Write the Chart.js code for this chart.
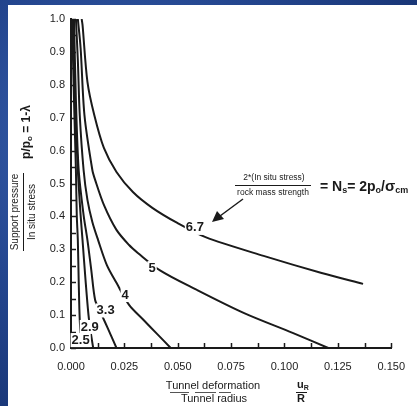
<!DOCTYPE html>
<html>
<head>
<meta charset="utf-8">
<script src="https://cdn.jsdelivr.net/npm/chart.js@4.4.0/dist/chart.umd.min.js"></script>
<style>
  html, body { margin: 0; padding: 0; }
  body {
    width: 417px; height: 406px; overflow: hidden; position: relative;
    background: radial-gradient(ellipse at 30% 35%, #3b64b2 0%, #24468f 45%, #132d69 100%);
  }
  #panel { position: absolute; left: 8px; top: 5px; right: 0; bottom: 0; background: #fff; }
  #wrap { position: absolute; left: 0; top: 0; width: 417px; height: 406px; }
</style>
</head>
<body>
<div id="panel"></div>
<div id="wrap"><canvas id="chart" width="417" height="406"></canvas></div>
<script>
// Ns = 2*po/sigma_cm curves: tunnel deformation (u/R) vs support pressure (p/po)
const nsLabels = ['2.5', '2.9', '3.3', '4', '5', '6.7'];

const strain25 = [0.0005, 0.0014, 0.0023, 0.0027, 0.0032, 0.0036, 0.0041, 0.0050];
const pressure25 = [1.0, 0.754, 0.541, 0.404, 0.328, 0.207, 0.085, 0.0];

const strain29 = [0.0009, 0.0018, 0.0032, 0.0045, 0.0054, 0.0068, 0.0082, 0.0093, 0.0104];
const pressure29 = [1.0, 0.754, 0.541, 0.404, 0.328, 0.207, 0.100, 0.045, 0.0];

const strain33 = [0.0014, 0.0023, 0.0036, 0.0059, 0.0077, 0.0095, 0.0113, 0.0136, 0.0159, 0.0186, 0.0213];
const pressure33 = [1.0, 0.754, 0.541, 0.404, 0.328, 0.237, 0.146, 0.112, 0.079, 0.040, 0.0];

const strain4 = [0.0023, 0.0032, 0.0041, 0.0059, 0.0077, 0.0100, 0.0127, 0.0168, 0.0213, 0.0272, 0.0340, 0.0403, 0.0467];
const pressure4 = [1.0, 0.875, 0.708, 0.541, 0.450, 0.383, 0.328, 0.252, 0.198, 0.131, 0.085, 0.043, 0.0];

const strain5 = [0.0032, 0.0045, 0.0063, 0.0100, 0.0113, 0.0154, 0.0213, 0.0272, 0.0313, 0.0417, 0.0585, 0.0811, 0.1038, 0.1205];
const pressure5 = [1.0, 0.912, 0.708, 0.541, 0.511, 0.435, 0.359, 0.313, 0.289, 0.236, 0.178, 0.106, 0.046, 0.0];

const strain67 = [0.0050, 0.0054, 0.0077, 0.0109, 0.0154, 0.0213, 0.0290, 0.0381, 0.0498, 0.0630, 0.0902, 0.1174, 0.1368];
const pressure67 = [1.0, 0.982, 0.809, 0.708, 0.608, 0.535, 0.474, 0.426, 0.380, 0.337, 0.280, 0.228, 0.195];

// where each Ns value is written on its curve
const labelStrain = [0.0045, 0.0088, 0.0162, 0.0254, 0.0380, 0.0580];
const labelPressure = [0.024, 0.064, 0.114, 0.161, 0.243, 0.365];

const curveStrains = [strain25, strain29, strain33, strain4, strain5, strain67];
const curvePressures = [pressure25, pressure29, pressure33, pressure4, pressure5, pressure67];

const FONT = '"Liberation Sans", Arial, sans-serif';
const INK = '#1a1a1a';

function toPoints(xs, ys) {
  return xs.map((x, i) => ({ x: x, y: ys[i] }));
}

// draw a run of text pieces (sub/superscripts) starting at x
function drawRun(ctx, parts, x, y) {
  let cx = x;
  parts.forEach((p) => {
    ctx.font = p.font;
    ctx.fillText(p.t, cx, y + (p.dy || 0));
    cx += ctx.measureText(p.t).width;
  });
  return cx;
}

function runWidth(ctx, parts) {
  return parts.reduce((w, p) => {
    ctx.font = p.font;
    return w + ctx.measureText(p.t).width;
  }, 0);
}

const decorPlugin = {
  id: 'decor',
  afterDraw(chart) {
    const { ctx, chartArea, scales } = chart;
    const xs = scales.x;
    const ys = scales.y;
    ctx.save();

    // inward tick marks
    ctx.strokeStyle = INK;
    ctx.lineWidth = 1.5;
    ctx.beginPath();
    for (let i = 0; i <= 12; i++) {
      const px = Math.round(xs.getPixelForValue(i * 0.0125)) + 0.5;
      ctx.moveTo(px, chartArea.bottom);
      ctx.lineTo(px, chartArea.bottom - 5);
    }
    for (let i = 0; i <= 20; i++) {
      const py = Math.round(ys.getPixelForValue(i * 0.05)) + 0.5;
      ctx.moveTo(chartArea.left, py);
      ctx.lineTo(chartArea.left + 5, py);
    }
    ctx.stroke();

    // Ns labels on the curves
    ctx.font = 'bold 13px ' + FONT;
    ctx.textAlign = 'center';
    ctx.textBaseline = 'middle';
    nsLabels.forEach((lab, i) => {
      const px = xs.getPixelForValue(labelStrain[i]);
      const py = ys.getPixelForValue(labelPressure[i]);
      const w = ctx.measureText(lab).width;
      ctx.fillStyle = '#fff';
      ctx.fillRect(px - w / 2 - 1, py - 7, w + 2, 14);
      ctx.fillStyle = INK;
      ctx.fillText(lab, px, py);
    });

    // y axis title (rotated)
    ctx.textAlign = 'left';
    ctx.fillStyle = INK;
    ctx.save();
    ctx.translate(27, 132);
    ctx.rotate(-Math.PI / 2);
    const pParts = [
      { t: 'p/p', font: 'bold 12px ' + FONT },
      { t: 'o', font: 'bold 8px ' + FONT, dy: 3 },
      { t: ' = 1-\u03bb', font: 'bold 12px ' + FONT },
    ];
    drawRun(ctx, pParts, -runWidth(ctx, pParts) / 2, 0);
    ctx.restore();

    ctx.save();
    ctx.translate(23, 212);
    ctx.rotate(-Math.PI / 2);
    ctx.textAlign = 'center';
    ctx.font = '10px ' + FONT;
    ctx.fillText('Support pressure', 0, -8);
    ctx.fillText('In situ stress', 0, 9);
    ctx.lineWidth = 1;
    ctx.beginPath();
    ctx.moveTo(-39, 0.5);
    ctx.lineTo(39, 0.5);
    ctx.stroke();
    ctx.restore();

    // x axis title
    ctx.textAlign = 'center';
    ctx.font = '11px ' + FONT;
    ctx.fillText('Tunnel deformation', 213, 386);
    ctx.fillText('Tunnel radius', 214, 399);
    ctx.lineWidth = 1;
    ctx.strokeStyle = '#555';
    ctx.beginPath();
    ctx.moveTo(170, 392.5);
    ctx.lineTo(189, 392.5);
    ctx.moveTo(195, 392.5);
    ctx.lineTo(216, 392.5);
    ctx.moveTo(219, 392.5);
    ctx.lineTo(231, 392.5);
    ctx.stroke();
    ctx.strokeStyle = INK;
    ctx.beginPath();
    ctx.moveTo(296, 392.5);
    ctx.lineTo(307, 392.5);
    ctx.stroke();
    ctx.textAlign = 'left';
    drawRun(ctx, [
      { t: 'u', font: 'bold 11px ' + FONT },
      { t: 'R', font: 'bold 7px ' + FONT, dy: 3 },
    ], 297, 385);
    ctx.textAlign = 'center';
    ctx.font = 'bold 11px ' + FONT;
    ctx.fillText('R', 301, 399);

    // Ns definition annotation
    ctx.font = '8.5px ' + FONT;
    ctx.fillText('2*(In situ stress)', 274, 178);
    ctx.fillText('rock mass strength', 273, 193);
    ctx.beginPath();
    ctx.moveTo(235, 185.5);
    ctx.lineTo(311, 185.5);
    ctx.stroke();

    ctx.textAlign = 'left';
    drawRun(ctx, [
      { t: '= ', font: 'bold 14px ' + FONT },
      { t: 'N', font: 'bold 14px ' + FONT },
      { t: 's', font: 'bold 9px ' + FONT, dy: 4 },
      { t: '= 2p', font: 'bold 14px ' + FONT },
      { t: 'o', font: 'bold 9px ' + FONT, dy: 4 },
      { t: '/', font: 'bold 14px ' + FONT },
      { t: '\u03c3', font: 'bold 15px ' + FONT },
      { t: 'cm', font: 'bold 9px ' + FONT, dy: 4 },
    ], 320, 187);

    // arrow pointing at the 6.7 curve
    ctx.lineWidth = 1.5;
    ctx.beginPath();
    ctx.moveTo(243, 199);
    ctx.lineTo(220, 216);
    ctx.stroke();
    ctx.beginPath();
    ctx.moveTo(212, 222);
    ctx.lineTo(217, 211);
    ctx.lineTo(224, 219);
    ctx.closePath();
    ctx.fill();

    ctx.restore();
  },
};

Chart.defaults.font.family = FONT;

new Chart(document.getElementById('chart'), {
  type: 'scatter',
  data: {
    datasets: nsLabels.map((lab, i) => ({
      label: 'Ns = ' + lab,
      data: toPoints(curveStrains[i], curvePressures[i]),
      showLine: true,
      borderColor: INK,
      borderWidth: 2,
      pointRadius: 0,
      tension: 0.3,
      fill: false,
    })),
  },
  options: {
    responsive: false,
    animation: false,
    devicePixelRatio: 1,
    layout: { padding: { left: 0, top: 19, right: 15, bottom: 0 } },
    plugins: { legend: { display: false }, tooltip: { enabled: false } },
    scales: {
      x: {
        type: 'linear',
        min: 0,
        max: 0.15,
        afterFit: (s) => { s.height = 58; },
        grid: { drawOnChartArea: false, drawTicks: false },
        border: { display: true, color: INK, width: 2 },
        ticks: {
          stepSize: 0.025,
          padding: 12,
          color: '#222',
          font: { size: 11 },
          callback: (v) => v.toFixed(3),
        },
      },
      y: {
        min: 0,
        max: 1,
        afterFit: (s) => { s.width = 71; },
        grid: { drawOnChartArea: false, drawTicks: false },
        border: { display: true, color: INK, width: 2 },
        ticks: {
          stepSize: 0.1,
          padding: 6,
          color: '#222',
          font: { size: 11 },
          callback: (v) => v.toFixed(1),
        },
      },
    },
  },
  plugins: [decorPlugin],
});
</script>
</body>
</html>
